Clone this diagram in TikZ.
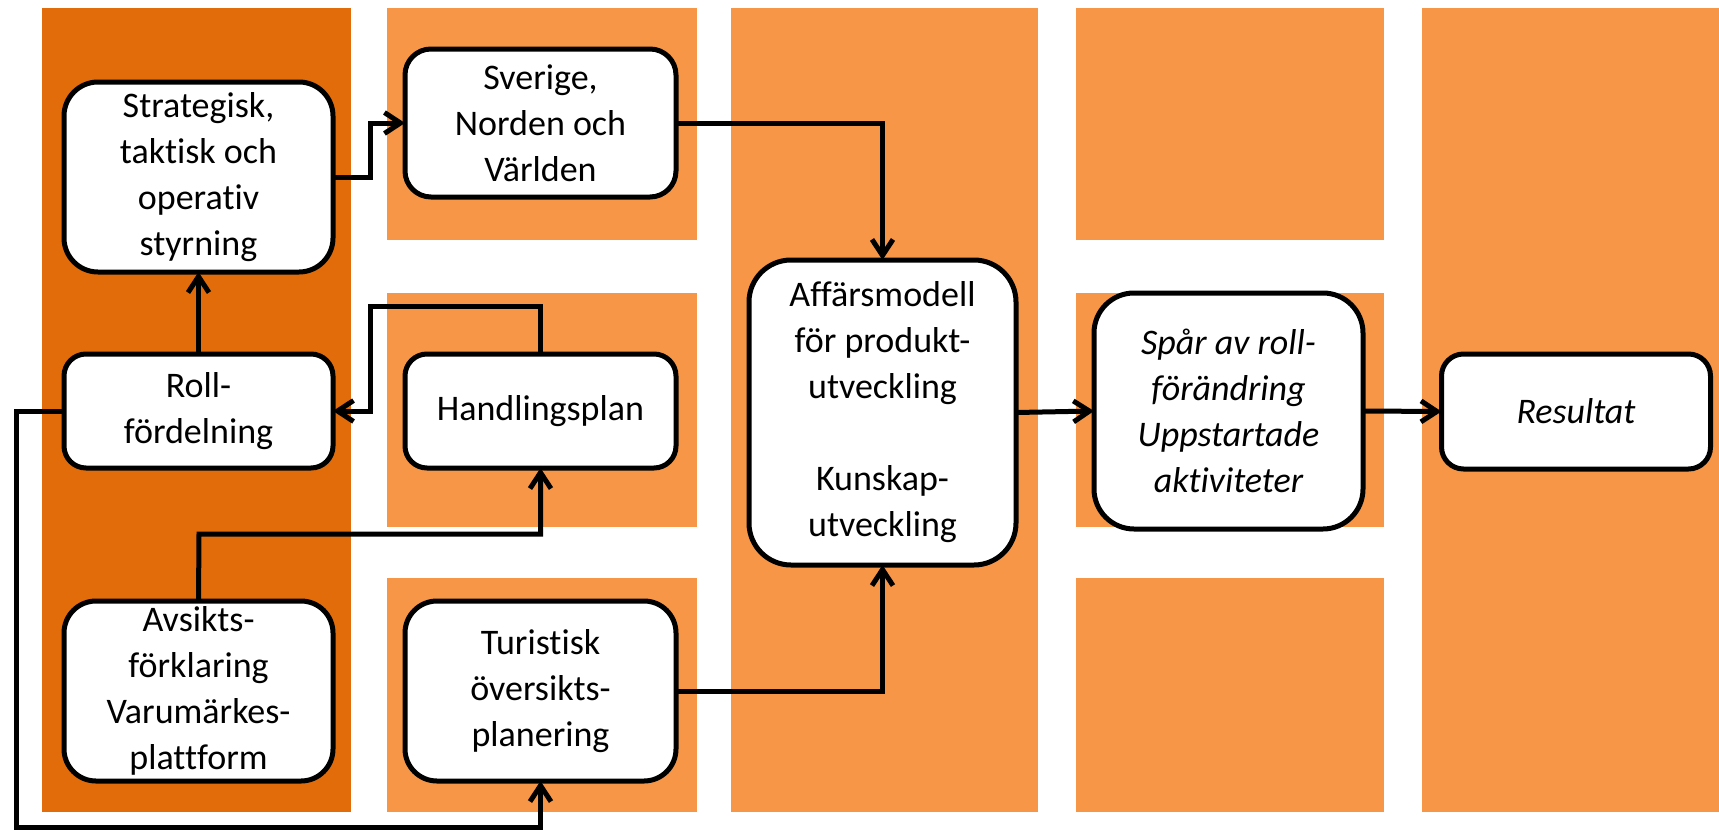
\documentclass[tikz,border=0pt]{standalone}
\usepackage{fontspec}
\setmainfont{Carlito}[Ligatures={NoCommon}]
\usetikzlibrary{arrows.meta}
\definecolor{darkor}{HTML}{E36C0A}
\definecolor{lightor}{HTML}{F79646}
\tikzset{
  box/.style={draw=black, line width=5pt, fill=white, align=center, inner sep=0pt, outer sep=0pt,
    font=\fontsize{36}{46}\selectfont},
  conn/.style={line width=5pt, -{Straight Barb[length=16pt,width=21pt,line join=miter]}},
}
\begin{document}
\begin{tikzpicture}[x=1pt,y=-1pt]
\useasboundingbox (0,0) rectangle (1719,830);
% background columns
\fill[darkor] (42,8) rectangle (351,812);
\fill[lightor] (387,8) rectangle (697,240);
\fill[lightor] (387,293) rectangle (697,527);
\fill[lightor] (387,578) rectangle (697,812);
\fill[lightor] (731,8) rectangle (1038,812);
\fill[lightor] (1076,8) rectangle (1384,240);
\fill[lightor] (1076,293) rectangle (1384,527);
\fill[lightor] (1076,578) rectangle (1384,812);
\fill[lightor] (1422,8) rectangle (1719,812);
% nodes
\node[box, rounded corners=34pt, minimum width=269pt, minimum height=190pt] (strat) at (198.5,177) {Strategisk,\\taktisk och\\operativ\\styrning};
\node[box, rounded corners=26pt, minimum width=271pt, minimum height=148pt] (sver) at (540.5,123) {Sverige,\\Norden och\\Världen};
\node[box, rounded corners=22pt, minimum width=269pt, minimum height=114pt] (roll) at (198.5,411) {Roll-\\fördelning};
\node[box, rounded corners=22pt, minimum width=271pt, minimum height=114pt] (hand) at (540.5,411) {Handlingsplan};
\node[box, rounded corners=32pt, minimum width=269pt, minimum height=180pt] (avs) at (198.5,691) {Avsikts-\\förklaring\\Varumärkes-\\plattform};
\node[box, rounded corners=32pt, minimum width=271pt, minimum height=180pt] (tur) at (540.5,691) {Turistisk\\översikts-\\planering};
\node[box, rounded corners=42pt, minimum width=267pt, minimum height=305pt] (aff) at (882.5,412.5) {Affärsmodell\\för produkt-\\utveckling\\[46pt]Kunskap-\\utveckling};
\node[box, rounded corners=40pt, minimum width=269pt, minimum height=236pt, font=\fontsize{36}{46}\selectfont\itshape] (spar) at (1228.5,411) {Spår av roll-\\förändring\\Uppstartade\\aktiviteter};
\node[box, rounded corners=22pt, minimum width=269pt, minimum height=115pt, font=\fontsize{36}{46}\selectfont\itshape] (res) at (1576,411.5) {Resultat};
% helper coordinates
\coordinate (sj) at (370,177.5);
\coordinate (hr) at (370,306);
\coordinate (ah) at (199,534);
\coordinate (rl) at (16,411);
\coordinate (rb) at (16,827);
% connectors
\draw[conn] (strat.east |- sj) -- (sj) |- (sver.west);
\draw[conn] (sver.east) -| (aff.north);
\draw[conn] (roll.north) -- (strat.south);
\draw[conn] (hand.north) |- (hr) |- (roll.east);
\draw[conn] (avs.north) -- (ah) -| (hand.south);
\draw[conn] (roll.west) -- (rl) -- (rb) -| (tur.south);
\draw[conn] (tur.east) -| (aff.south);
\draw[conn] (aff.east) -- (spar.west);
\draw[conn] (spar.east) -- (res.west);
\end{tikzpicture}
\end{document}
